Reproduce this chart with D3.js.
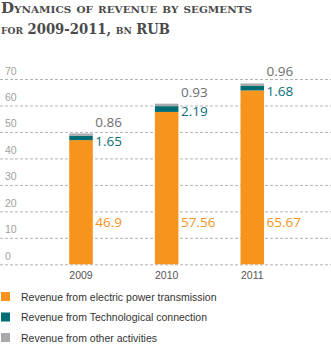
<!DOCTYPE html>
<html>
<head>
<meta charset="utf-8">
<script src="https://cdn.jsdelivr.net/npm/d3@7"></script>
<style>
  html, body { margin: 0; padding: 0; background: #fff; }
  svg { display: block; }
</style>
</head>
<body>
<svg id="chart" width="331" height="346"></svg>
<script>
// Revenue by segment, bn RUB
const years = ["2009", "2010", "2011"];
const transmission = [46.9, 57.56, 65.67];
const techConnection = [1.65, 2.19, 1.68];
const otherActivities = [0.86, 0.93, 0.96];
const yTicks = [0, 10, 20, 30, 40, 50, 60, 70];
const seriesNames = [
  "Revenue from electric power transmission",
  "Revenue from Technological connection",
  "Revenue from other activities"
];

const colors = ["#f7941d", "#006d75", "#a7a9ac"];
const labelColors = ["#f7941d", "#0b6e78", "#6d6e71"];

const svg = d3.select("#chart");

// Title
const title = svg.append("text")
  .attr("fill", "#4a4a4a")
  .style("font-family", "'DejaVu Serif', serif")
  .style("font-weight", "bold")
  .style("font-variant", "small-caps")
  .style("font-size", "14.5px");
title.append("tspan").attr("x", 1).attr("y", 13)
  .attr("textLength", 251).attr("lengthAdjust", "spacingAndGlyphs")
  .text("Dynamics of revenue by segments");
title.append("tspan").attr("x", 1).attr("y", 34)
  .attr("textLength", 169).attr("lengthAdjust", "spacingAndGlyphs")
  .text("for 2009-2011, bn RUB");

const y = d3.scaleLinear().domain([0, 70]).range([264.3, 79]);
const x = d3.scaleBand().domain(years).range([38.2, 295.1])
  .paddingInner(0.725).paddingOuter(0.3625);

// Gridlines with labels sitting above each line
const yAxis = svg.append("g")
  .call(d3.axisRight(y).tickValues(yTicks).tickSize(331).tickFormat(d3.format("d")));
yAxis.select(".domain").remove();
yAxis.selectAll(".tick line")
  .attr("stroke", "#b3b3b3")
  .attr("stroke-dasharray", "3,2");
yAxis.selectAll(".tick text")
  .attr("x", 5).attr("dy", "-5px")
  .attr("text-anchor", "start")
  .attr("fill", "#a0a0a0")
  .style("font-family", "'Liberation Sans', Arial, sans-serif")
  .style("font-size", "10.5px")
  .style("dominant-baseline", "auto");

// Stacked bars
const rows = years.map((yr, i) => ({
  year: yr, t: transmission[i], c: techConnection[i], o: otherActivities[i]
}));
const stack = d3.stack().keys(["t", "c", "o"]);
const layers = stack(rows);

svg.append("g").selectAll("g")
  .data(layers).join("g")
  .attr("fill", (d, i) => colors[i])
  .selectAll("rect")
  .data(d => d).join("rect")
  .attr("x", d => x(d.data.year))
  .attr("width", x.bandwidth())
  .attr("y", d => y(d[1]))
  .attr("height", d => y(d[0]) - y(d[1]));

// Value labels
const valFont = "'Open Sans', 'Liberation Sans', sans-serif";
const lab = svg.append("g").style("font-family", valFont).style("font-size", "13.5px");
rows.forEach(r => {
  const lx = x(r.year) + x.bandwidth() + 2.5;
  const top = y(r.t + r.c + r.o);
  lab.append("text").attr("x", lx).attr("y", y(16) + 5)
    .attr("fill", labelColors[0]).text(r.t);
  lab.append("text").attr("x", lx).attr("y", top + 12.5)
    .attr("fill", labelColors[1]).text(r.c);
  lab.append("text").attr("x", lx).attr("y", top - 7)
    .attr("fill", labelColors[2]).text(r.o);
});

// Year labels
svg.append("g").selectAll("text")
  .data(years).join("text")
  .attr("x", d => x(d) + x.bandwidth() / 2)
  .attr("y", 279)
  .attr("text-anchor", "middle")
  .attr("fill", "#555")
  .style("font-family", "'Liberation Sans', Arial, sans-serif")
  .style("font-size", "10.5px")
  .text(d => d);

// Legend
const legend = svg.append("g").selectAll("g")
  .data(seriesNames).join("g")
  .attr("transform", (d, i) => `translate(1, ${292 + i * 20.5})`);
legend.append("rect")
  .attr("width", 9).attr("height", 9)
  .attr("fill", (d, i) => colors[i]);
legend.append("text")
  .attr("x", 20).attr("y", 8.5)
  .attr("fill", "#333")
  .style("font-family", "'Liberation Sans', Arial, sans-serif")
  .style("font-size", "10.5px")
  .text(d => d);
</script>
</body>
</html>
